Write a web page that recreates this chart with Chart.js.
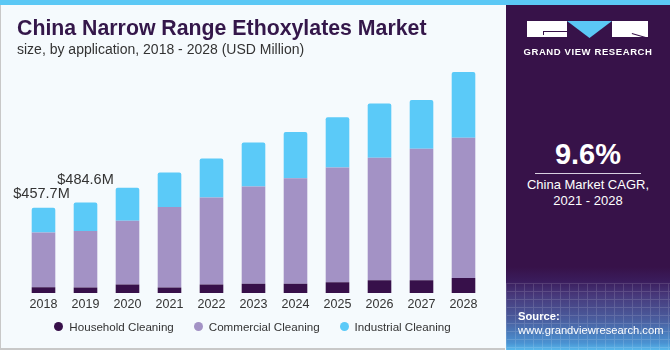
<!DOCTYPE html>
<html>
<head>
<meta charset="utf-8">
<script src="https://cdn.jsdelivr.net/npm/chart.js@4.4.0/dist/chart.umd.min.js"></script>
<style>
  html, body { margin: 0; padding: 0; }
  body { width: 670px; height: 350px; position: relative; overflow: hidden; background: #f5fafd; font-family: "Liberation Sans", Arial, sans-serif; }
  #topbar { position: absolute; left: 0; top: 0; width: 670px; height: 5px; background: #5bc8f5; }
  #left { position: absolute; left: 0; top: 5px; width: 504px; height: 343px; border-left: 1px solid #c8c8c8; border-bottom: 2px solid #c8c8c8; background: #f5fafd; }
  #wrap { position: absolute; left: 0; top: 0; width: 505px; height: 350px; }
  #title { position: absolute; left: 17px; top: 16px; font-size: 21.3px; font-weight: bold; color: #34174a; white-space: nowrap; }
  #subtitle { position: absolute; left: 17px; top: 41px; font-size: 14px; color: #333; white-space: nowrap; }
  #legend { position: absolute; left: 0; width: 505px; top: 320px; display: flex; justify-content: center; gap: 20px; font-size: 11.6px; color: #333; }
  #legend .it { display: flex; align-items: center; }
  #legend .dot { width: 9px; height: 9px; border-radius: 50%; margin-right: 6px; }
  #panel { position: absolute; left: 506px; top: 5px; width: 164px; height: 345px;
    background: linear-gradient(to bottom, #371249 0px, #371249 262px, #3a1c5c 276px, #47387a 290px, #4a5e9f 315px, #4a92d2 338px, #58b8ec 345px); overflow: hidden; }
  #grid { position: absolute; left: 0; top: 278px; width: 164px; height: 67px; opacity: 0.14;
    background-image: repeating-linear-gradient(to right, rgba(255,255,255,0.9) 0 1px, transparent 1px 9px), repeating-linear-gradient(to bottom, rgba(255,255,255,0.9) 0 1px, transparent 1px 8px); }
  .blk { position: absolute; background: #fff; }
  #tri { position: absolute; left: 61px; top: 16px; width: 45px; height: 17px; background: #5bc8f5; clip-path: polygon(0 0, 100% 0, 50% 100%); }
  #gvr { position: absolute; left: 0; width: 164px; top: 41px; text-align: center; color: #fff; font-size: 9.5px; font-weight: bold; letter-spacing: 0.6px; }
  #cagr { position: absolute; left: 0; width: 164px; top: 133px; text-align: center; color: #fff; font-size: 29px; font-weight: bold; }
  #rule { position: absolute; left: 29px; width: 106px; top: 168px; height: 1px; background: #d8d0e0; }
  #cagrtxt { position: absolute; left: 0; width: 164px; top: 172px; text-align: center; color: #fff; font-size: 13px; line-height: 16px; }
  #src { position: absolute; left: 12px; top: 304px; color: #fff; font-size: 11.2px; line-height: 14px; }
</style>
</head>
<body>
<div id="topbar"></div>
<div id="left"></div>
<div id="wrap"><canvas id="myChart" width="505" height="350"></canvas></div>
<div id="title">China Narrow Range Ethoxylates Market</div>
<div id="subtitle">size, by application, 2018 - 2028 (USD Million)</div>
<div id="legend"></div>
<div id="panel">
  <div class="blk" style="left:21px;top:16px;width:40px;height:16px;"></div>
  <div style="position:absolute;left:37px;top:26px;width:24px;height:1px;background:#371249;"></div>
  <div style="position:absolute;left:37px;top:26px;width:1px;height:4px;background:#371249;"></div>
  <div id="tri"></div>
  <div class="blk" style="left:106px;top:16px;width:36px;height:16px;"></div>
  <div style="position:absolute;left:126px;top:28px;width:17px;height:1px;background:#371249;transform:rotate(16deg);transform-origin:0 0;"></div>
  <div id="gvr">GRAND VIEW RESEARCH</div>
  <div id="cagr">9.6%</div>
  <div id="rule"></div>
  <div id="cagrtxt">China Market CAGR,<br>2021 - 2028</div>
  <div id="grid"></div>
  <div id="src"><b>Source:</b><br>www.grandviewresearch.com</div>
</div>
<script>
// values, USD million
const years = ['2018', '2019', '2020', '2021', '2022', '2023', '2024', '2025', '2026', '2027', '2028'];
const household = [31, 30, 45, 30, 45, 50, 50, 58, 69, 69, 80];
const commercial = [294, 302, 342, 431, 468, 521, 565, 615, 657, 705, 753];
const industrial = [133, 153, 177, 185, 208, 237, 249, 270, 290, 262, 352];
const totalLabels = ['$457.7M', '$484.6M'];

const seriesNames = ['Household Cleaning', 'Commercial Cleaning', 'Industrial Cleaning'];
const seriesColors = ['#37104a', '#a392c5', '#5bcaf8'];

// labels above the first two bars
const totalsPlugin = {
  id: 'totals',
  afterDatasetsDraw(chart) {
    const ctx = chart.ctx;
    const meta = chart.getDatasetMeta(2);
    const gaps = [10, 19];
    const dx = [-2, 0];
    ctx.save();
    ctx.font = '14.5px "Liberation Sans", Arial, sans-serif';
    ctx.fillStyle = '#333';
    ctx.textAlign = 'center';
    ctx.textBaseline = 'alphabetic';
    for (let i = 0; i < totalLabels.length; i++) {
      const bar = meta.data[i];
      ctx.fillText(totalLabels[i], bar.x + dx[i], bar.y - gaps[i]);
    }
    ctx.restore();
  }
};

const data = {
  labels: years,
  datasets: [
    { label: seriesNames[0], data: household, backgroundColor: seriesColors[0] },
    { label: seriesNames[1], data: commercial, backgroundColor: seriesColors[1] },
    { label: seriesNames[2], data: industrial, backgroundColor: seriesColors[2],
      borderRadius: { topLeft: 2, topRight: 2, bottomLeft: 0, bottomRight: 0 }, borderSkipped: 'bottom' }
  ]
};

const config = {
  type: 'bar',
  data: data,
  plugins: [totalsPlugin],
  options: {
    responsive: false,
    animation: false,
    layout: { padding: { left: 22.5, right: 20.5, top: 60, bottom: 34 } },
    datasets: { bar: { categoryPercentage: 1, barPercentage: 0.562 } },
    plugins: {
      legend: { display: false },
      tooltip: { enabled: false }
    },
    scales: {
      x: {
        stacked: true,
        grid: { display: false, drawTicks: false },
        border: { display: false },
        ticks: { padding: 4, color: '#333', font: { size: 12.5, family: '"Liberation Sans", Arial, sans-serif' } }
      },
      y: {
        stacked: true,
        display: false,
        min: 0,
        max: 1250
      }
    }
  }
};

new Chart(document.getElementById('myChart'), config);

// legend from the series
const legend = document.getElementById('legend');
for (let i = 0; i < seriesNames.length; i++) {
  const it = document.createElement('div');
  it.className = 'it';
  it.innerHTML = '<span class="dot" style="background:' + seriesColors[i] + '"></span>' + seriesNames[i];
  legend.appendChild(it);
}
</script>
</body>
</html>
